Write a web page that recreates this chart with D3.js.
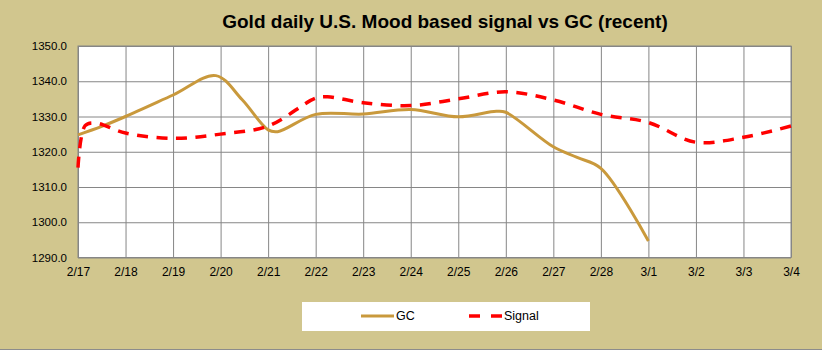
<!DOCTYPE html>
<html>
<head>
<meta charset="utf-8">
<script src="https://cdn.jsdelivr.net/npm/d3@7"></script>
<style>
  body { margin: 0; background: #d1c68e; }
  svg { display: block; }
</style>
</head>
<body>
<div id="chart"></div>
<script>
// category labels along the bottom (one per day)
var xLabels = ["2/17", "2/18", "2/19", "2/20", "2/21", "2/22", "2/23", "2/24",
               "2/25", "2/26", "2/27", "2/28", "3/1", "3/2", "3/3", "3/4"];
var yTicks = [1290, 1300, 1310, 1320, 1330, 1340, 1350];

// GC - position in days from 2/17, and price
var gcDay = [0, 0.5, 1, 2, 2.9, 3.45, 4, 4.2, 5, 6, 7, 8, 8.8, 9, 10, 10.5, 11, 12];
var gcVal = [1324.8, 1327.2, 1330.0, 1336.1, 1341.6, 1334.8, 1326.2, 1325.7, 1330.6,
             1330.7, 1332.0, 1329.9, 1331.5, 1331.2, 1321.4, 1318.4, 1315.3, 1294.7];

// Signal
var sigDay = [0, 0.15, 0.35, 1, 2, 3, 4, 5, 5.25, 6, 7, 8, 9, 10, 11, 12, 13, 14, 15];
var sigVal = [1315.5, 1327.4, 1328.2, 1325.3, 1323.8, 1325.0, 1327.3, 1335.2, 1335.6,
              1333.9, 1333.1, 1335.0, 1337.0, 1334.7, 1330.6, 1328.3, 1322.7, 1324.1, 1327.3];

var width = 822, height = 350;
var margin = {top: 46, right: 31, bottom: 92.5, left: 78};
var plot_w = width - margin.left - margin.right,
    plot_h = height - margin.top - margin.bottom;

var svg = d3.select("#chart").append("svg")
    .attr("width", width)
    .attr("height", height);

svg.append("rect")
    .attr("width", width).attr("height", height)
    .attr("fill", "#d1c68e");

// bottom edge of the chart frame
svg.append("line")
    .attr("x1", 0).attr("x2", width)
    .attr("y1", height - 0.5).attr("y2", height - 0.5)
    .attr("stroke", "#8c8c8c");

svg.append("text")
    .attr("x", 445).attr("y", 28)
    .attr("text-anchor", "middle")
    .style("font-family", "'Liberation Sans Narrow', 'Arial Narrow', 'Liberation Sans', sans-serif")
    .style("font-weight", "bold")
    .style("font-size", "19px")
    .attr("fill", "#000")
    .text("Gold daily U.S. Mood based signal vs GC (recent)");

var g = svg.append("g")
    .attr("transform", `translate(${margin.left}, ${margin.top})`);

var x = d3.scaleLinear().domain([0, xLabels.length - 1]).range([0, plot_w]);
var y = d3.scaleLinear().domain([1290, 1350]).range([plot_h, 0]);

g.append("rect")
    .attr("width", plot_w).attr("height", plot_h)
    .attr("fill", "#fff");

// gridlines
var y_axis = g.append("g")
    .call(d3.axisLeft(y).tickValues(yTicks).tickSize(-plot_w).tickPadding(11)
        .tickFormat(d3.format(".1f")));
var x_axis = g.append("g")
    .attr("transform", "translate(0," + plot_h + ")")
    .call(d3.axisBottom(x).tickValues(d3.range(xLabels.length)).tickSize(-plot_h).tickPadding(10)
        .tickFormat(i => xLabels[i]));

[y_axis, x_axis].forEach(function (a) {
    a.select(".domain").remove();
    a.selectAll("line").attr("stroke", "#868686").attr("stroke-width", 1);
    a.selectAll("text")
        .style("font-family", "'Liberation Sans', Arial, sans-serif")
        .style("font-size", "11.5px")
        .attr("fill", "#000");
});
x_axis.selectAll("text").style("font-size", "12px");

g.append("rect")
    .attr("width", plot_w).attr("height", plot_h)
    .attr("fill", "none")
    .attr("stroke", "#868686");

var gcData = gcDay.map((d, i) => ({day: d, v: gcVal[i]}));
var sigData = sigDay.map((d, i) => ({day: d, v: sigVal[i]}));

var lineGen = d3.line()
    .curve(d3.curveCatmullRom.alpha(0.5))
    .x(d => x(d.day))
    .y(d => y(d.v));

g.append("path")
    .datum(gcData)
    .attr("d", lineGen)
    .attr("fill", "none")
    .attr("stroke", "#c9993c")
    .attr("stroke-width", 3);

g.append("path")
    .datum(sigData)
    .attr("d", lineGen)
    .attr("fill", "none")
    .attr("stroke", "#ff0000")
    .attr("stroke-width", 3.5)
    .attr("stroke-dasharray", "11,8.5");

// legend
var legend = svg.append("g");
legend.append("rect")
    .attr("x", 302).attr("y", 302)
    .attr("width", 288).attr("height", 29)
    .attr("fill", "#fff");

var legendItems = [
    {name: "GC", color: "#c9993c", dash: null, x: 361},
    {name: "Signal", color: "#ff0000", dash: "11,11", x: 469}
];
legendItems.forEach(function (it) {
    legend.append("line")
        .attr("x1", it.x).attr("x2", it.x + 33)
        .attr("y1", 316).attr("y2", 316)
        .attr("stroke", it.color)
        .attr("stroke-width", it.dash ? 3.5 : 3)
        .attr("stroke-dasharray", it.dash);
    legend.append("text")
        .attr("x", it.x + 35).attr("y", 320)
        .style("font-family", "'Liberation Sans Narrow', 'Liberation Sans', sans-serif")
        .style("font-size", "12.5px")
        .attr("fill", "#000")
        .text(it.name);
});
</script>
</body>
</html>
